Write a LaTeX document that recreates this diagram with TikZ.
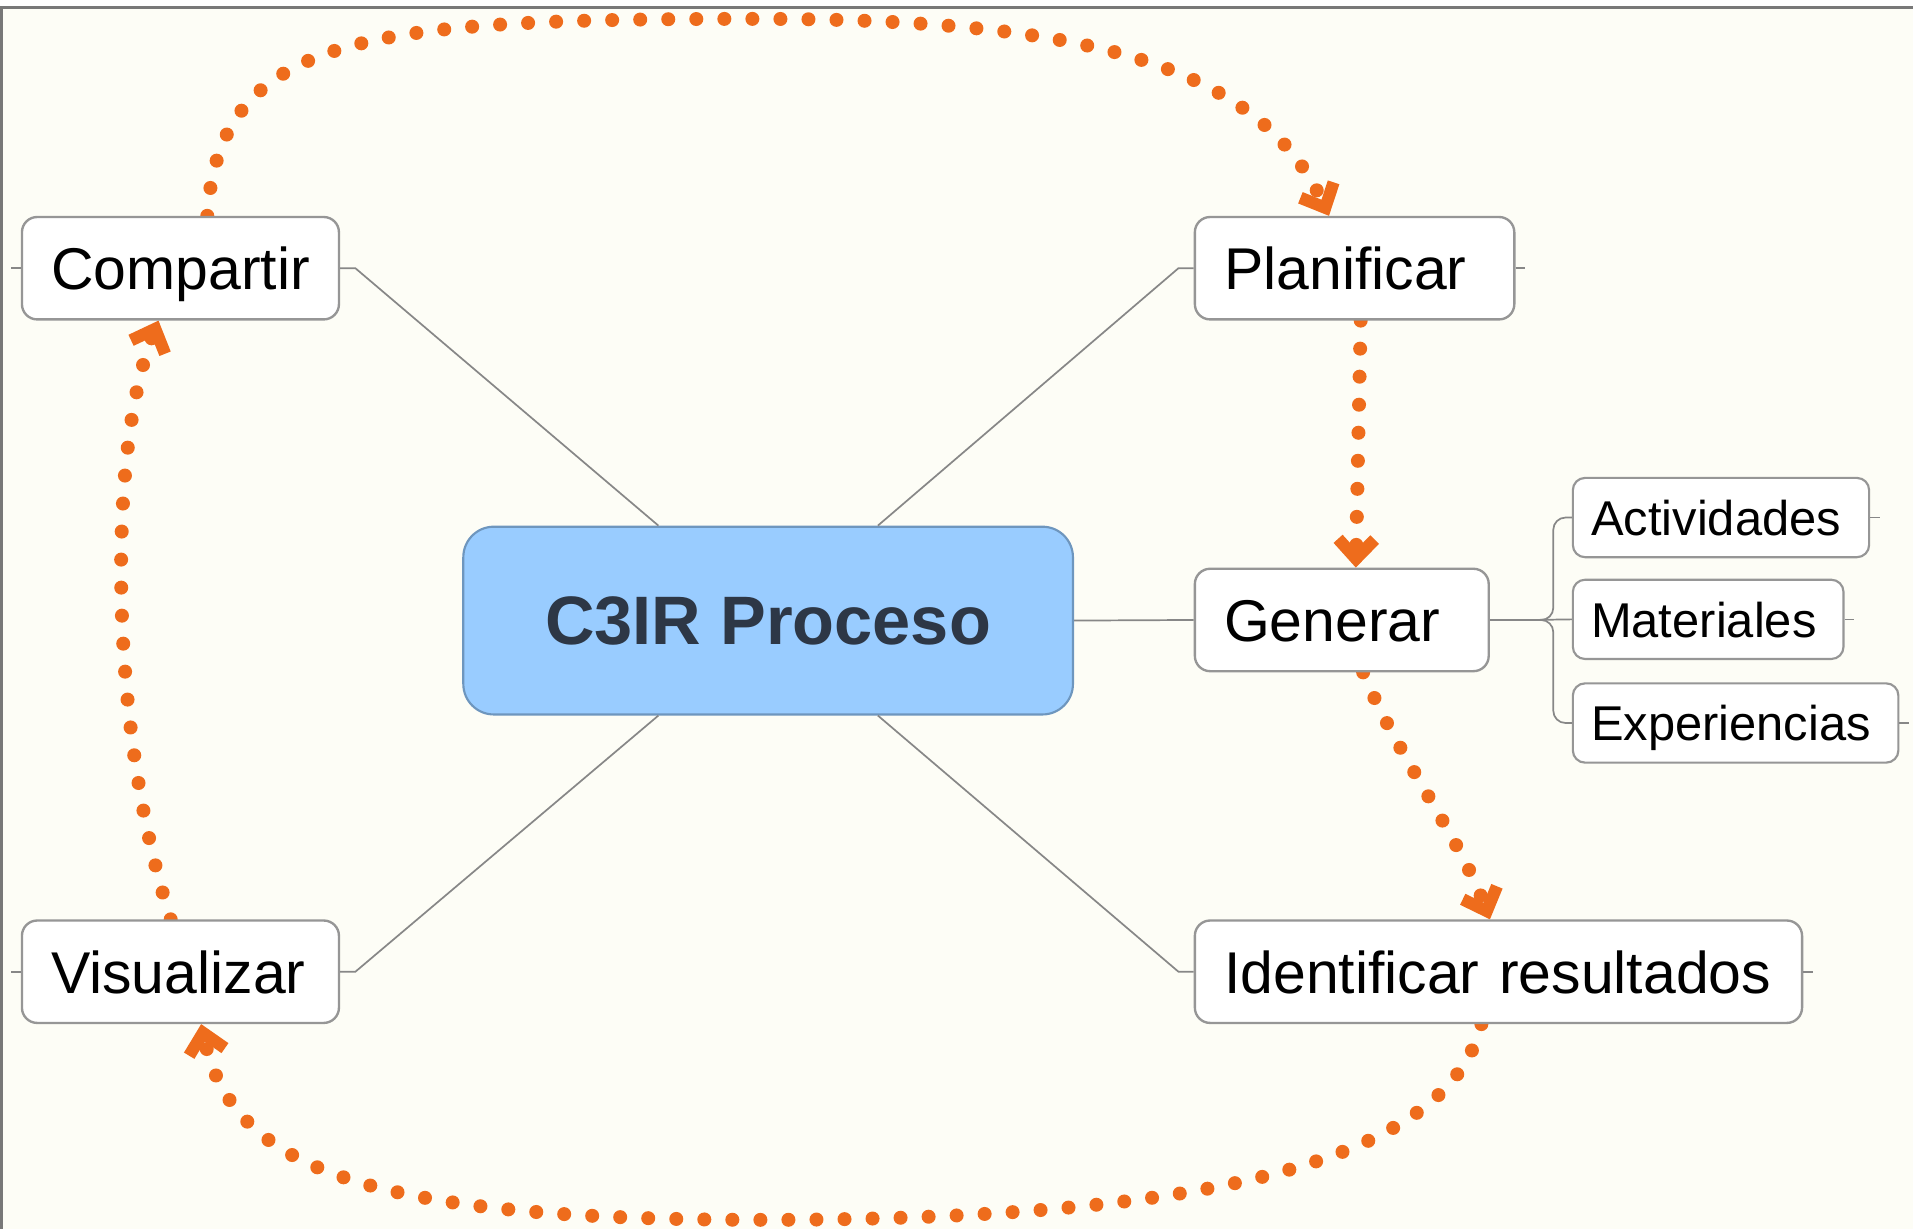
\documentclass[tikz,border=0pt]{standalone}
\usepackage{fontspec}
\setmainfont{Liberation Sans}
\usepackage{xcolor}
\usepackage{tikz}
\usetikzlibrary{arrows.meta,backgrounds}

\definecolor{fondo}{RGB}{253,253,246}
\definecolor{marco}{RGB}{120,120,120}
\definecolor{cajagris}{RGB}{150,150,150}
\definecolor{ramagris}{RGB}{135,135,135}
\definecolor{naranja}{RGB}{238,108,28}
\definecolor{celeste}{RGB}{153,204,255}
\definecolor{celesteborde}{RGB}{110,150,190}
\definecolor{tinta}{RGB}{45,55,70}

\tikzset{
  paso/.style={draw=cajagris, line width=1.1pt, rounded corners=0.25cm, fill=white,
    font=\fontsize{27.5}{30}\selectfont, inner xsep=0.48cm, inner ysep=0pt,
    text height=0.7cm, text depth=0cm,
    minimum height=1.68cm, text width=#1, align=left},
  hoja/.style={draw=cajagris, line width=1pt, rounded corners=0.2cm, fill=white,
    font=\fontsize{22.8}{25}\selectfont, inner xsep=0.3cm, inner ysep=0pt,
    text height=0.58cm, text depth=0cm,
    minimum height=1.3cm, text width=#1, align=left},
  centro/.style={draw=celesteborde, line width=1pt, rounded corners=0.5cm, fill=celeste,
    text=tinta, font=\fontsize{32}{36}\selectfont\bfseries,
    minimum width=10cm, minimum height=3.08cm},
  rama/.style={draw=ramagris, line width=0.8pt},
  flujo/.style={draw=naranja, line width=0.23cm, line cap=round,
    dash pattern=on 0pt off 0.46cm,
    -{Straight Barb[length=0.32cm,width=0.6cm,line width=0.2cm]}}
}

\begin{document}
\begin{tikzpicture}

        \useasboundingbox (0,0) rectangle (31.38,20.16);

            % nodos
            \node[centro] (mapa) at (12.6,9.98) {C3IR Proceso};
            \node[paso=4.24cm] (comp) at (2.96,15.76) {Compartir};
            \node[paso=4.28cm] (plan) at (22.22,15.76) {Planificar};
            \node[paso=3.86cm] (gen) at (22.01,9.99) {Generar};
            \node[paso=9.0cm] (ident) at (24.58,4.22) {Identificar resultados};
            \node[paso=4.24cm] (vis) at (2.96,4.22) {Visualizar};

            \node[hoja=4.26cm] (act) at (28.23,11.67) {Actividades};
            \node[hoja=3.84cm] (mat) at (28.02,10.0) {Materiales};
            \node[hoja=4.74cm] (exp) at (28.47,8.3) {Experiencias};

            % ramas grises
            \draw[rama] (comp.east) -- ++(0.25,0) -- ([xshift=-1.8cm]mapa.north);
            \draw[rama] (plan.west) -- ++(-0.25,0) -- ([xshift=1.8cm]mapa.north);
            \draw[rama] (vis.east) -- ++(0.25,0) -- ([xshift=-1.8cm]mapa.south);
            \draw[rama] (ident.west) -- ++(-0.25,0) -- ([xshift=1.8cm]mapa.south);
            \draw[rama] (mapa.east) -- (gen.west);

            \draw[rama] (gen.east) -- ++(0.7,0) coordinate (nudo);
            \draw[rama, rounded corners=0.2cm] (nudo) -- ++(0.34,0) |- (act.west);
            \draw[rama] (nudo) -- (mat.west);
            \draw[rama, rounded corners=0.2cm] (nudo) -- ++(0.34,0) |- (exp.west);

            % remates
            \draw[rama] (comp.west) -- ++(-0.16,0);
            \draw[rama] (vis.west) -- ++(-0.16,0);
            \draw[rama] (plan.east) -- ++(0.16,0);
            \draw[rama] (ident.east) -- ++(0.16,0);
            \draw[rama] (act.east) -- ++(0.16,0);
            \draw[rama] (mat.east) -- ++(0.16,0);
            \draw[rama] (exp.east) -- ++(0.16,0);

            % ciclo naranja, por debajo de las cajas
            \begin{scope}[on background layer]
            \fill[fondo] (0,0) rectangle (31.38,20.03);
            \draw[marco, line width=0.05cm] (0,20.03) -- (31.38,20.03);
            \draw[marco, line width=0.05cm] (0.03,0) -- (0.03,20.03);

            \draw[flujo] ([xshift=0.44cm]comp.north)
                .. controls (3.6,19.6) and (6,19.85) .. (12.4,19.85)
                .. controls (17.5,19.85) and (20.6,19.2) .. ([xshift=-0.42cm]plan.north);
            \draw[flujo] ([xshift=0.1cm]plan.south) -- ([xshift=0.23cm]gen.north);
            \draw[flujo] ([xshift=0.35cm]gen.south)
                .. controls (22.9,7.8) and (23.9,6.5) .. ([xshift=-0.14cm]ident.north);
            \draw[flujo] ([xshift=-0.28cm]ident.south)
                .. controls (23.7,0.9) and (19,0.15) .. (12.5,0.15)
                .. controls (6,0.15) and (3.8,1.0) .. ([xshift=0.34cm]vis.south);
            \draw[flujo] ([xshift=-0.16cm]vis.north)
                .. controls (1.77,8.3) and (1.77,12.8) .. ([xshift=-0.36cm]comp.south);
            \end{scope}

        \end{tikzpicture}
\end{document}
